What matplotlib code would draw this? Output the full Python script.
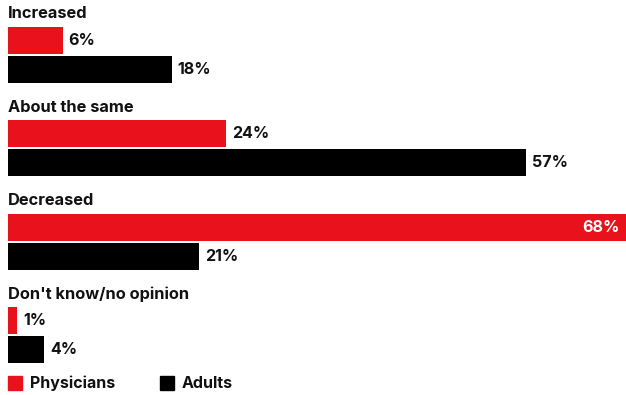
import matplotlib.pyplot as plt

# survey answers, share of respondents (%)
categories = ["Increased", "About the same", "Decreased", "Don't know/no opinion"]
physicians = [6, 24, 68, 1]
adults = [18, 57, 21, 4]

RED = '#e8111c'
BLACK = '#000000'
plt.rcParams['font.family'] = ['Inter', 'DejaVu Sans']

fig = plt.figure(figsize=(6.26, 3.95), dpi=100)
ax = fig.add_axes([0, 0, 1, 1])
px = 618 / 68  # pixels per percent
ax.set_xlim(-8 / px, 618 / px)
ax.set_ylim(395, 0)
ax.axis('off')

step = 93.3
bar_h = 27
for i, cat in enumerate(categories):
    top = 14 + i * step
    ax.text(0, top, cat, fontsize=11.8, fontweight='bold',
            va='center', ha='left', color='#111111')
    y_red = top + 26.5
    y_blk = y_red + 29
    ax.barh(y_red, physicians[i], height=bar_h, color=RED, left=0)
    ax.barh(y_blk, adults[i], height=bar_h, color=BLACK, left=0)
    if physicians[i] > 60:
        ax.text(physicians[i] - 6 / px, y_red, f"{physicians[i]}%", fontsize=11.5,
                fontweight='bold', color='white', va='center', ha='right')
    else:
        ax.text(physicians[i] + 6 / px, y_red, f"{physicians[i]}%", fontsize=11.5,
                fontweight='bold', color='#111111', va='center', ha='left')
    ax.text(adults[i] + 6 / px, y_blk, f"{adults[i]}%", fontsize=11.5,
            fontweight='bold', color='#111111', va='center', ha='left')

# legend
leg_y = 383
for x0, col, name in [(0, RED, "Physicians"), (152 / px, BLACK, "Adults")]:
    ax.add_patch(plt.Rectangle((x0, leg_y - 7), 14 / px, 14, color=col))
    ax.text(x0 + 22 / px, leg_y, name, fontsize=11.5, fontweight='bold',
            va='center', ha='left', color='#111111')

fig.savefig('out.png', dpi=100)
